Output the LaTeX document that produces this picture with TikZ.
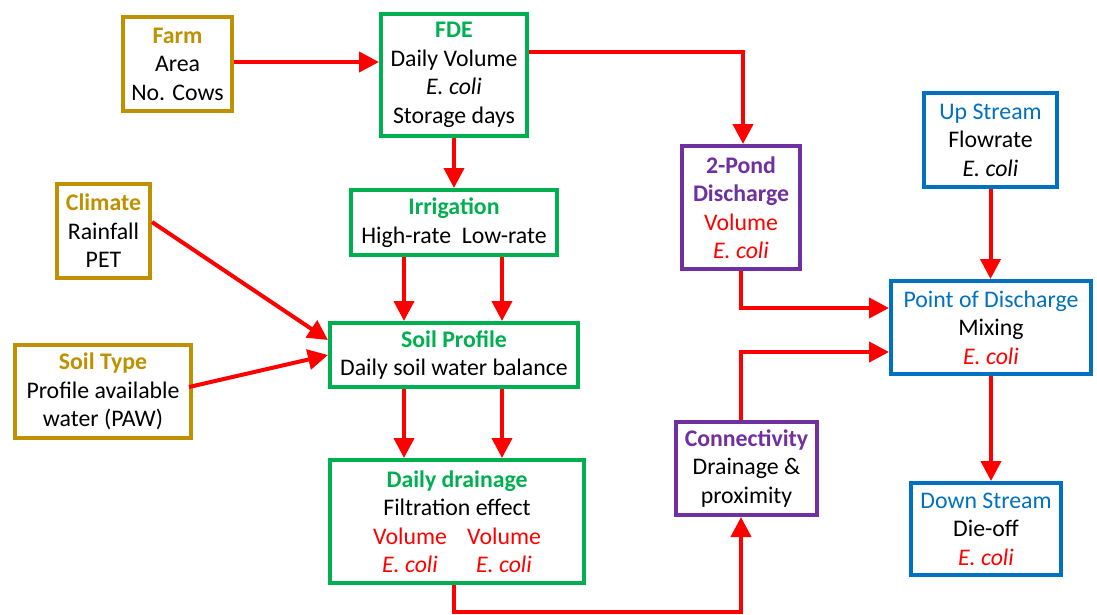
\documentclass[tikz,border=0pt]{standalone}
\usepackage{fontspec}
\setmainfont{Carlito}
\usetikzlibrary{arrows.meta}
\definecolor{cgold}{HTML}{BF9000}
\definecolor{cgreen}{HTML}{00B050}
\definecolor{cpurple}{HTML}{7030A0}
\definecolor{cblue}{HTML}{0070C0}
\definecolor{cred}{HTML}{FF0000}
\begin{document}
\begin{tikzpicture}[x=1pt,y=-1pt,
  box/.style={draw, line width=4pt, fill=white, align=center, inner sep=0pt,
    font=\fontsize{23.8}{28.5}\selectfont,
    execute at begin node={\rule{0pt}{19.5pt}}},
  goldbox/.style={box, draw=cgold},
  greenbox/.style={box, draw=cgreen},
  purplebox/.style={box, draw=cpurple},
  bluebox/.style={box, draw=cblue},
  arr/.style={draw=cred, line width=4pt, -{Triangle[length=20pt,width=20pt]}},
  ln/.style={draw=cred, line width=4pt}]
\useasboundingbox (0,0) rectangle (1097,614);
\newcommand{\ttl}[2]{\textcolor{#1}{\textbf{#2}}}
\newcommand{\rd}[1]{\textcolor{cred}{#1}}
% nodes
\node[goldbox, minimum width=109pt, minimum height=94pt] (farm) at (177.5,64)
  {\ttl{cgold}{Farm}\\Area\\No. Cows};
\node[greenbox, minimum width=146pt, minimum height=122pt] (fde) at (454,75)
  {\ttl{cgreen}{FDE}\\Daily Volume\\\textit{E. coli}\\Storage days};
\node[goldbox, minimum width=93pt, minimum height=94pt] (climate) at (103.5,231)
  {\ttl{cgold}{Climate}\\Rainfall\\PET};
\node[greenbox, minimum width=206pt, minimum height=65pt] (irr) at (454,222.5)
  {\ttl{cgreen}{Irrigation}\\High-rate\ \ Low-rate};
\node[goldbox, minimum width=176pt, minimum height=93pt] (soilt) at (103,391.5)
  {\ttl{cgold}{Soil Type}\\Profile available\\water (PAW)};
\node[greenbox, minimum width=248pt, minimum height=64pt] (soilp) at (454,355)
  {\ttl{cgreen}{Soil Profile}\\Daily soil water balance};
\node[greenbox, minimum width=254pt, minimum height=123pt] (drain) at (457,521.5)
  {\ttl{cgreen}{Daily drainage}\\Filtration effect\\
   \makebox[94pt]{\rd{Volume}}\makebox[94pt]{\rd{Volume}}\\
   \makebox[94pt]{\rd{\textit{E. coli}}}\makebox[94pt]{\rd{\textit{E. coli}}}};
\node[purplebox, minimum width=118pt, minimum height=123pt] (pond) at (741,207.5)
  {\ttl{cpurple}{2-Pond}\\\ttl{cpurple}{Discharge}\\\rd{Volume}\\\rd{\textit{E. coli}}};
\node[purplebox, minimum width=141pt, minimum height=93pt] (conn) at (746.5,468.5)
  {\ttl{cpurple}{Connectivity}\\Drainage \&\\proximity};
\node[bluebox, minimum width=133pt, minimum height=94pt] (up) at (990.5,140)
  {\textcolor{cblue}{Up Stream}\\Flowrate\\\textit{E. coli}};
\node[bluebox, minimum width=200pt, minimum height=93pt] (pod) at (991,327.5)
  {\textcolor{cblue}{Point of Discharge}\\Mixing\\\rd{\textit{E. coli}}};
\node[bluebox, minimum width=150pt, minimum height=92pt] (down) at (986,529)
  {\textcolor{cblue}{Down Stream}\\Die-off\\\rd{\textit{E. coli}}};
% connectors
\draw[arr] ([yshift=2pt]farm.east) -- ([yshift=2pt]farm.east -| fde.west);
\draw[arr] (fde.south) -- (irr.north);
\draw[arr] ([yshift=23pt]fde.east) -| ([xshift=2pt]pond.north);
\draw[arr] ([xshift=-50pt]irr.south) -- ([xshift=-50pt]irr.south |- soilp.north);
\draw[arr] ([xshift=48pt]irr.south) -- ([xshift=48pt]irr.south |- soilp.north);
\draw[arr] ([yshift=9pt]climate.east) -- ([yshift=15pt]soilp.west);
\draw[arr] ([yshift=4.5pt,xshift=-4pt]soilt.east) -- (soilp.west);
\draw[arr] ([xshift=-50pt]soilp.south) -- ([xshift=-50pt]soilp.south |- drain.north);
\draw[arr] ([xshift=48pt]soilp.south) -- ([xshift=48pt]soilp.south |- drain.north);
\coordinate (dturn) at ([xshift=-3pt,yshift=-27pt]drain.south);
\draw[arr] ([xshift=-3pt]drain.south) -- (dturn) -| ([xshift=-5.5pt]conn.south);
\draw[arr] ([xshift=-5.5pt]conn.north) |- ([yshift=-24.5pt]pod.west);
\draw[arr] (pond.south) |- ([yshift=19.5pt]pod.west);
\draw[arr] (up.south) -- (up.south |- pod.north);
\draw[arr] (pod.south) -- (pod.south |- down.north);
\end{tikzpicture}
\end{document}
